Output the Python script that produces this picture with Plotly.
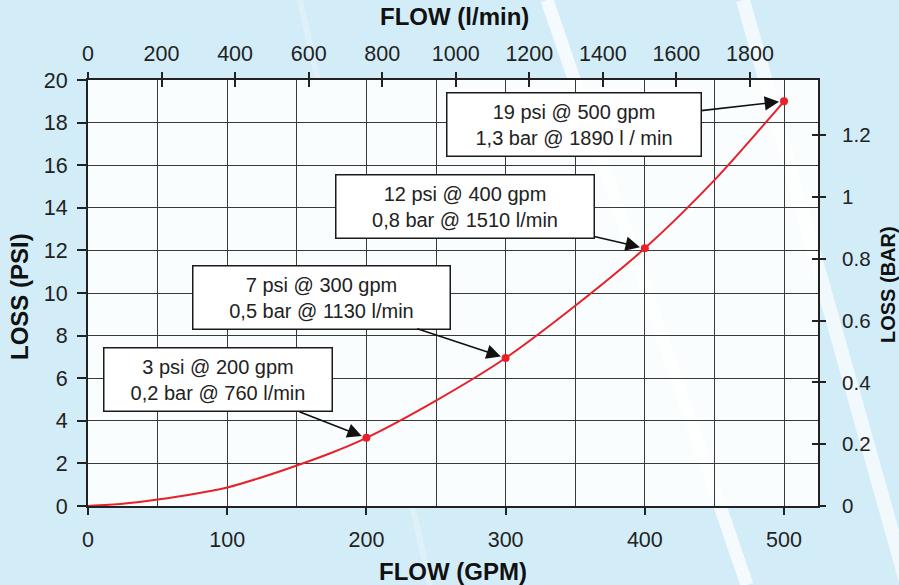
import plotly.graph_objects as go

# ---- data ----
gpm_curve = [0, 25, 50, 75, 100, 125, 150, 175, 200, 250, 300, 350, 400, 450, 500]
psi_curve = [0, 0.1, 0.3, 0.55, 0.87, 1.35, 1.9, 2.5, 3.2, 4.95, 6.95, 9.4, 12.1, 15.3, 19.0]

gpm_pts = [200, 300, 400, 500]
psi_pts = [3.2, 6.95, 12.1, 19.0]
lpm_pts = [760, 1130, 1510, 1890]
bar_pts = [0.2, 0.5, 0.8, 1.3]

labels = [
    "3 psi @ 200 gpm<br>0,2 bar @ 760 l/min",
    "7 psi @ 300 gpm<br>0,5 bar @ 1130 l/min",
    "12 psi @ 400 gpm<br>0,8 bar @ 1510 l/min",
    "19 psi @ 500 gpm<br>1,3 bar @ 1890 l / min",
]
# label box centres (gpm, psi)
box_x = [93.4, 167.4, 270.8, 349.1]
box_y = [5.92, 9.81, 14.08, 17.89]
box_w = [219, 248, 249, 245]

x_ticks = [0, 100, 200, 300, 400, 500]
x2_ticks = [0, 200, 400, 600, 800, 1000, 1200, 1400, 1600, 1800]
y_ticks = [0, 2, 4, 6, 8, 10, 12, 14, 16, 18, 20]
y2_ticks = [0, 0.2, 0.4, 0.6, 0.8, 1.0, 1.2]
y2_text = ["0", "0.2", "0.4", "0.6", "0.8", "1", "1.2"]

GPM_TO_LPM = 3.7854
PSI_PER_BAR = 14.5038
X_MAX = 524.4
Y_MAX = 20

FONT = "Liberation Sans, Arial, sans-serif"
INK = "#222222"
GRID = "#3a3a3a"
RED = "#e8202a"

fig = go.Figure()

fig.add_trace(go.Scatter(x=gpm_curve, y=psi_curve, mode="lines",
                         line=dict(color=RED, width=2, shape="spline", smoothing=0.8),
                         hoverinfo="skip", showlegend=False))
fig.add_trace(go.Scatter(x=gpm_pts, y=psi_pts, mode="markers",
                         marker=dict(color=RED, size=8),
                         hoverinfo="skip", showlegend=False))
# invisible traces to anchor the secondary axes
for xa, ya in [("x2", "y2"), ("x3", "y3")]:
    fig.add_trace(go.Scatter(x=lpm_pts, y=bar_pts, mode="markers",
                             marker=dict(opacity=0), xaxis=xa, yaxis=ya,
                             hoverinfo="skip", showlegend=False))

for lab, bx, by, w, px, py in zip(labels, box_x, box_y, box_w, gpm_pts, psi_pts):
    fig.add_annotation(x=px, y=py, ax=bx, ay=by, axref="x", ayref="y",
                       text=lab, showarrow=True, arrowhead=2, arrowsize=1.8,
                       arrowwidth=1.6, arrowcolor="#111111", standoff=5,
                       bgcolor="white", bordercolor="#1a1a1a", borderwidth=1.5,
                       borderpad=4, width=w, height=54, align="center",
                       font=dict(family=FONT, size=20, color=INK))

# axis titles
title_font = dict(family=FONT, size=24, color="#111111")
fig.add_annotation(text="<b>FLOW (l/min)</b>", xref="paper", yref="paper",
                   x=(454 - 88) / 730, y=(506 - 17) / 426, showarrow=False,
                   xanchor="center", yanchor="middle", font=title_font)
fig.add_annotation(text="<b>FLOW (GPM)</b>", xref="paper", yref="paper",
                   x=(453 - 88) / 730, y=(506 - 571) / 426, showarrow=False,
                   xanchor="center", yanchor="middle", font=title_font)
fig.add_annotation(text="<b>LOSS (PSI)</b>", xref="paper", yref="paper",
                   x=(19 - 88) / 730, y=(506 - 297) / 426, showarrow=False,
                   textangle=-90, xanchor="center", yanchor="middle", font=title_font)
fig.add_annotation(text="<b>LOSS (BAR)</b>", xref="paper", yref="paper",
                   x=(888 - 88) / 730, y=(506 - 285) / 426, showarrow=False,
                   textangle=-90, xanchor="center", yanchor="middle",
                   font=dict(family=FONT, size=20, color="#111111"))

# decorative background stripes (paper px -> paper coords)
def px2paper(x, y):
    return (x - 88) / 730, (506 - y) / 426

for (x0, y0, x1, y1, w, op) in [(547, 0, 747, 585, 13, 0.75), (743, 0, 907, 585, 14, 0.7),
                                 (300, 0, 430, 585, 6, 0.25)]:
    a0, b0 = px2paper(x0, y0)
    a1, b1 = px2paper(x1, y1)
    fig.add_shape(type="line", xref="paper", yref="paper", x0=a0, y0=b0, x1=a1, y1=b1,
                  line=dict(color="white", width=w), opacity=op, layer="below")

tick_font = dict(family=FONT, size=21.5, color=INK)
right_tick_font = dict(family=FONT, size=20.5, color=INK)

fig.update_layout(
    width=899, height=585,
    margin=dict(l=88, r=81, t=80, b=79),
    paper_bgcolor="#d3edf8",
    plot_bgcolor="rgba(255,255,255,0.86)",
    showlegend=False,
    xaxis=dict(range=[0, X_MAX], tickvals=x_ticks, showgrid=True, gridcolor=GRID,
               gridwidth=1, minor=dict(dtick=50, showgrid=True, gridcolor=GRID, gridwidth=1),
               showline=True, linecolor=INK, linewidth=2, ticks="outside", ticklen=7,
               tickwidth=1.5, tickcolor=INK, tickfont=tick_font, ticklabelstandoff=6,
               zeroline=False, fixedrange=True),
    yaxis=dict(range=[0, Y_MAX], tickvals=y_ticks, showgrid=True, gridcolor=GRID,
               gridwidth=1, showline=True, linecolor=INK, linewidth=2,
               ticks="outside", ticklen=9, tickwidth=1.5, tickcolor=INK,
               tickfont=tick_font, ticklabelstandoff=5, zeroline=False, fixedrange=True),
    xaxis2=dict(range=[0, X_MAX * GPM_TO_LPM], tickvals=x2_ticks, overlaying="x",
                side="top", anchor="y", showgrid=False, showline=True, linecolor=INK,
                linewidth=2, ticks="outside", ticklen=6, tickwidth=1.5, tickcolor=INK,
                tickfont=tick_font, ticklabelstandoff=2, zeroline=False, fixedrange=True),
    yaxis2=dict(range=[0, Y_MAX / PSI_PER_BAR], tickvals=y2_ticks, ticktext=y2_text,
                overlaying="y", side="right", anchor="x", showgrid=False, showline=True,
                linecolor=INK, linewidth=2, ticks="outside", ticklen=6, tickwidth=1.5,
                tickcolor=INK, tickfont=right_tick_font, ticklabelstandoff=12,
                zeroline=False, fixedrange=True),
    xaxis3=dict(range=[0, X_MAX * GPM_TO_LPM], tickvals=x2_ticks, overlaying="x",
                side="top", anchor="y", showgrid=False, showline=False,
                ticks="inside", ticklen=7, tickwidth=1.5, tickcolor=INK,
                showticklabels=False, zeroline=False, fixedrange=True),
    yaxis3=dict(range=[0, Y_MAX / PSI_PER_BAR], tickvals=y2_ticks, overlaying="y",
                side="right", anchor="x", showgrid=False, showline=False,
                ticks="inside", ticklen=6, tickwidth=1.5, tickcolor=INK,
                showticklabels=False, zeroline=False, fixedrange=True),
)

fig.write_html("out.html", config={"displayModeBar": False},
               post_script="document.body.style.margin='0';document.body.style.overflow='hidden';")
